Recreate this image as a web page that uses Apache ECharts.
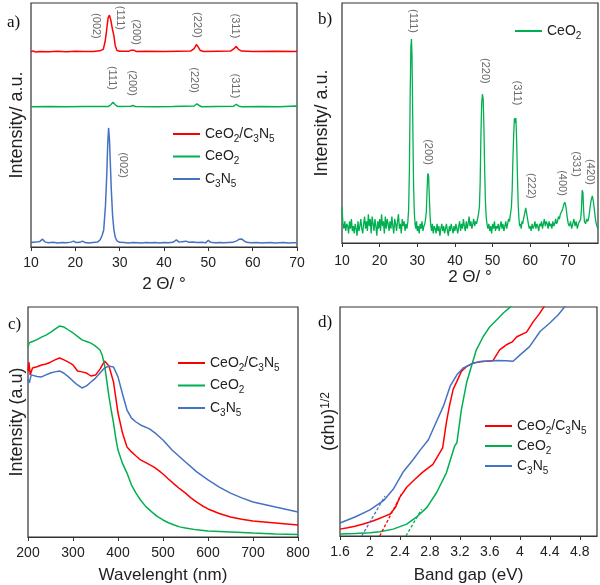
<!DOCTYPE html>
<html><head><meta charset="utf-8">
<script src="https://cdn.jsdelivr.net/npm/echarts@6/dist/echarts.min.js"></script>
<style>html,body{margin:0;padding:0;background:#fff}#c{width:600px;height:585px}</style>
</head><body><div id="c"></div>
<script>
// ---------- Panel a: XRD stacked (2θ, relative intensity) ----------
const xrdA_composite = [[10,80],[10.5,80.4],[11,79.9],[12,80.1],[14,80],[16,80.2],[18,80],[20,80.2],[22,80.1],[24,80.1],[25.5,80.4],[26.3,81],[26.7,84],[27.0,88],[27.4,94],[27.7,95],[28.0,93],[28.4,89],[28.7,86.5],[29.0,82.5],[29.4,80.5],[30,80.2],[32,80.2],[32.5,80.6],[32.9,81.4],[33.3,80.6],[33.8,80.1],[36,80.2],[40,80.1],[43,80.2],[46,80.3],[46.8,81.3],[47.3,83],[47.7,82],[48.2,80.5],[49,80.1],[52,80.2],[55,80.3],[55.8,81.3],[56.3,82.2],[56.8,81],[57.5,80.3],[60,80.1],[65,80.2],[69.5,80.1],[69.8,80.7],[70,80.2]];
const xrdA_CeO2 = [[10,57.5],[14,57.6],[18,57.5],[22,57.6],[27.5,57.6],[28.0,58.3],[28.5,59.3],[29.0,58.3],[29.5,57.6],[32.5,57.7],[33,58.0],[33.5,57.6],[38,57.5],[42,57.6],[46.8,57.8],[47.4,58.7],[48,57.9],[48.5,57.5],[52,57.6],[55.7,57.7],[56.3,58.5],[56.9,57.7],[57.5,57.5],[62,57.6],[66,57.5],[69.8,57.8],[70,57.6]];
const xrdA_C3N5 = [[10,1.8],[11,2.0],[12,2.3],[12.6,3.2],[13.2,2.0],[14,1.7],[15,1.9],[16,1.6],[17,1.8],[18,1.7],[19,2.0],[19.6,2.4],[20.2,1.8],[21,1.9],[21.6,2.4],[22.2,1.8],[23,1.6],[24,1.8],[25,2.0],[25.6,3.0],[26.0,4.5],[26.4,7],[26.8,17],[27.1,30],[27.3,42],[27.5,48.8],[27.7,44],[27.9,34],[28.1,24],[28.4,13],[28.7,7],[29.0,4],[29.4,2.5],[30,1.9],[31,1.8],[32,1.6],[33,1.8],[34,1.7],[35,1.6],[36,1.8],[37,1.7],[38,1.8],[39,1.6],[40,1.8],[41,1.7],[42,1.9],[42.8,2.9],[43.4,2.0],[44,2.2],[45,2.4],[45.6,1.9],[46.5,2.0],[47.5,1.8],[48.5,1.9],[49.4,1.7],[50.0,2.8],[50.5,1.9],[51.5,1.7],[52.5,1.8],[53.5,1.7],[54.5,1.8],[55.5,1.9],[56.4,2.5],[57.0,3.2],[57.5,3.3],[58.0,2.6],[58.6,1.9],[59.5,1.7],[61,1.8],[62,1.6],[63,1.7],[64,1.8],[65,1.6],[66,1.7],[67,1.8],[68,1.6],[69,1.7],[70,1.7]];
const xrdA_labels = [[24.6,90.6,'(002)'],[30.0,93.9,'(111)'],[33.8,88.1,'(200)'],[47.4,91,'(220)'],[56.0,90.6,'(311)'],
  [28.2,69.3,'(111)'],[32.7,67.2,'(200)'],[46.7,68.4,'(220)'],[56.0,66,'(311)'],[30.7,33.6,'(002)']];

// ---------- Panel b: XRD CeO2 ----------
const xrdB_CeO2 = [[10,15],[10.25,8],[10.5,6],[10.75,9],[11,5],[11.25,8],[11.5,7],[11.75,4],[12,9],[12.25,6],[12.5,10],[12.75,5],[13,7],[13.25,4],[13.5,8],[13.75,6],[14,3],[14.25,9],[14.5,5],[14.75,7],[15,10],[15.25,6],[15.5,4],[15.75,8],[16,11],[16.25,6],[16.5,9],[16.75,5],[17,12],[17.25,7],[17.5,10],[17.75,4],[18,11],[18.25,8],[18.5,5],[18.75,10],[19,7],[19.25,3],[19.5,9],[19.75,6],[20,10],[20.25,5],[20.5,12],[20.75,7],[21,9],[21.25,4],[21.5,11],[21.75,6],[22,10],[22.25,8],[22.5,5],[22.75,9],[23,6],[23.25,11],[23.5,7],[23.75,4],[24,10],[24.25,8],[24.5,5],[24.75,9],[25,12],[25.25,6],[25.5,8],[25.75,4],[26,10],[26.25,7],[26.5,9],[26.75,5],[27,8],[27.25,6],
  [27.5,9],[27.7,14],[27.9,30],[28.1,60],[28.3,82],[28.45,85],[28.6,78],[28.8,50],[29.0,25],[29.2,13],[29.4,8],[29.6,6],
  [29.8,9],[30.0,5],[30.25,7],[30.5,4],[30.75,8],[31,6],[31.25,9],[31.5,5],[31.75,7],[32.0,8],[32.2,10],
  [32.4,13],[32.6,22],[32.8,29],[33.0,28],[33.2,19],[33.4,11],[33.6,7],
  [33.8,5],[34,8],[34.25,4],[34.5,7],[34.75,6],[35,4],[35.25,8],[35.5,5],[35.75,7],[36,3],[36.25,6],[36.5,8],[36.75,5],[37,7],[37.25,4],[37.5,6],[37.75,8],[38,5],[38.25,3],[38.5,7],[38.75,5],[39,8],[39.25,6],[39.5,4],[39.75,7],[40,5],[40.25,8],[40.5,6],[40.75,4],[41,7],[41.25,9],[41.5,5],[41.75,8],[42,6],[42.25,10],[42.5,7],[42.75,5],[43,9],[43.25,6],[43.5,8],[43.75,11],[44,7],[44.25,9],[44.5,6],[44.75,8],[45,10],[45.25,7],[45.5,9],[45.75,8],[46,10],[46.25,12],
  [46.5,15],[46.7,25],[46.9,45],[47.1,58],[47.3,62],[47.5,60],[47.7,48],[47.9,30],[48.1,17],[48.3,11],[48.5,8],
  [48.75,6],[49,8],[49.25,5],[49.5,7],[49.75,4],[50,8],[50.25,6],[50.5,9],[50.75,5],[51,7],[51.25,6],[51.5,8],[51.75,5],[52,7],[52.25,9],[52.5,6],[52.75,8],[53,5],[53.25,7],[53.5,9],[53.75,6],[54,8],[54.25,10],[54.5,9],[54.75,12],
  [55.0,15],[55.2,22],[55.4,35],[55.6,45],[55.8,52],[56.0,50],[56.2,52],[56.4,42],[56.6,28],[56.8,16],[57.0,10],[57.2,7],
  [57.4,8],[57.6,6],[57.8,9],[58.0,8],[58.2,10],[58.5,12],[58.8,14.6],[59.0,14],[59.2,11],[59.5,8],[59.75,6],
  [60,7],[60.25,5],[60.5,8],[60.75,6],[61,7],[61.25,9],[61.5,6],[61.75,8],[62,7],[62.25,5],[62.5,8],[62.75,7],[63,9],[63.25,6],[63.5,8],[63.75,10],[64,7],[64.25,9],[64.5,8],[64.75,6],[65,9],[65.25,7],[65.5,8],[65.75,6],[66,9],[66.25,7],[66.5,8],[66.75,10],[67,8],[67.25,9],[67.5,11],[67.75,10],[68,12],
  [68.3,12],[68.6,14],[68.9,16],[69.2,17],[69.5,15],[69.8,11],[70.1,8],
  [70.4,7],[70.7,9],[71,6],[71.3,8],[71.6,10],[71.9,7],[72.2,9],[72.5,6],[72.8,8],[73.1,9],[73.4,10],
  [73.6,14],[73.8,22],[74.0,21],[74.2,13],[74.4,9],[74.7,8],[75.0,10],[75.3,9],[75.6,11],
  [75.9,15],[76.2,18],[76.5,19.6],[76.8,17],[77.1,13],[77.4,9],[77.7,7],[78,6]];
const xrdB_labels = [[28.9,92.5,'(111)'],[32.9,37.9,'(200)'],[47.9,71.7,'(220)'],[56.4,62.5,'(311)'],[60.1,23.8,'(222)'],[68.4,25,'(400)'],[72.1,32.9,'(331)'],[75.9,29.6,'(420)']];

// ---------- Panel c: UV-vis (nm, intensity) ----------
const uv_composite = [[200,72],[202,76],[205,70.5],[210,73.5],[220,74],[230,74.8],[240,75.2],[250,76],[260,77],[270,77.8],[280,77],[290,76],[300,74.8],[310,72.2],[320,71.8],[330,71.3],[340,70],[350,70.4],[360,73],[370,76.5],[380,74.3],[390,67.4],[400,53.9],[410,45.2],[420,39.1],[430,37],[440,35.2],[450,33.5],[465,32],[480,30.4],[490,29],[500,27.4],[512,25.2],[525,23],[537,21],[550,19.1],[562,17],[575,15.2],[587,13.6],[600,12.2],[625,10.2],[650,8.7],[675,7.7],[700,7],[750,6.1],[800,5.2]];
const uv_CeO2 = [[200,82.6],[203,84.5],[206,84],[210,85],[220,85.8],[230,86.9],[240,87.8],[250,89],[260,90.4],[270,91.7],[280,91.3],[290,90],[300,88.7],[310,87.2],[320,85.7],[330,85],[340,84.3],[350,83],[360,81.3],[365,79],[370,74.8],[375,68],[380,60.9],[385,55],[390,49.6],[395,43],[400,37.8],[410,32],[420,27.8],[430,22.6],[440,19.1],[450,16.1],[462,13.2],[475,10.9],[487,9],[500,7.4],[512,6.2],[525,5.2],[537,4.4],[550,3.9],[575,3.1],[600,2.6],[650,2.2],[700,1.7],[750,1.3],[800,1.1]];
const uv_C3N5 = [[200,68.7],[203,67],[207,70.5],[210,70.4],[220,69.8],[230,69.6],[240,70.5],[250,71.3],[260,71.8],[270,72.2],[280,71.2],[290,69.6],[300,67.8],[310,66.1],[320,64.8],[330,65.7],[340,67.4],[350,69.1],[360,71.3],[370,73.5],[380,74.3],[390,73.9],[400,69.6],[410,62.2],[420,55.2],[430,51.7],[440,50],[450,48.7],[470,47],[485,44.8],[500,42.2],[520,37.8],[535,35.2],[550,32.6],[575,28.3],[600,24.8],[625,21.7],[650,19.1],[675,17],[700,15.2],[750,13],[800,10.9]];

// ---------- Panel d: Tauc plot (eV, (αhυ)^1/2) ----------
const tauc_composite = [[1.6,3],[1.7,3.6],[1.8,4.3],[1.9,5.1],[2.0,6.1],[2.1,7.3],[2.2,8.7],[2.27,9.6],[2.34,12.5],[2.4,17],[2.49,21.3],[2.6,24.8],[2.7,27.8],[2.84,31.3],[2.97,38.5],[3.02,49.6],[3.06,56.7],[3.11,64],[3.16,67.5],[3.22,71.9],[3.29,74],[3.38,75.6],[3.5,76.2],[3.64,76.5],[3.73,81.3],[3.82,83.5],[3.9,84.8],[3.96,87],[4.09,89],[4.18,93.6],[4.26,97],[4.33,100.5]];
const tauc_CeO2 = [[1.6,0.9],[1.8,1.1],[2.0,1.4],[2.13,1.9],[2.31,3],[2.49,5.2],[2.62,8.2],[2.76,12.5],[2.89,19],[3.02,27.6],[3.13,39.3],[3.16,40.7],[3.22,55.2],[3.29,67],[3.36,74.8],[3.42,81.3],[3.51,87],[3.6,91.4],[3.69,94.3],[3.78,97.4],[3.89,100.5]];
const tauc_C3N5 = [[1.6,5.7],[1.8,8.3],[2.0,11.4],[2.18,15.4],[2.31,20.4],[2.44,27.8],[2.58,33.5],[2.67,37.5],[2.78,42],[2.84,46.5],[2.98,56.7],[3.07,65.4],[3.16,70.4],[3.24,73.3],[3.36,75.2],[3.47,76.2],[3.6,76.4],[3.7,76.6],[3.82,76.5],[3.91,76.3],[4.0,79],[4.13,82.7],[4.27,89.3],[4.4,93],[4.51,96.5],[4.61,100.5]];
const tangent_composite = [[2.13,0],[2.42,18.3]];
const tangent_CeO2 = [[2.48,0],[2.69,11.7]];
const tangent_C3N5 = [[1.89,0],[2.2,17.4]];

// ---------- tick settings ----------
const ticksA = {min:10, max:70, interval:10};
const ticksB = {min:10, max:78, interval:10};
const ticksC = {min:200, max:800, interval:100};
const ticksD = {min:1.6, max:5.03, interval:0.4};

const RED = '#ff0000', GREEN = '#00b050', BLUE = '#4472c4';
const FONT = '"Liberation Sans", Arial, sans-serif';
const chart = echarts.init(document.getElementById('c'), null, {renderer:'canvas'});

function xAxis(g, t, name, nameGap, margin){
  return {gridIndex:g, type:'value', min:t.min, max:t.max, interval:t.interval,
    name:name, nameLocation:'middle', nameGap:nameGap,
    nameTextStyle:{fontSize:17, color:'#222', fontFamily:FONT},
    axisLine:{show:true, lineStyle:{color:'#333', width:1.2}},
    axisTick:{show:true, length:4, inside:false, lineStyle:{color:'#333'}},
    axisLabel:{fontSize:14, color:'#222', fontFamily:FONT, margin:margin, showMaxLabel: (t.max % t.interval === 0) ? true : false,
      formatter: v => (Math.abs(v/t.interval - Math.round(v/t.interval)) < 1e-6 && v <= t.max - t.interval*0.1 + 1e-9 || Math.abs(v - t.max) < 1e-9 && t.max % t.interval === 0) ? String(Math.round(v*10)/10) : ''},
    splitLine:{show:false}};
}
function yAxis(g, name, nameGap, rich){
  return {gridIndex:g, type:'value', min:0, max:100,
    name:name, nameLocation:'middle', nameGap:nameGap,
    nameTextStyle:{fontSize:18, color:'#222', fontFamily:FONT, rich:rich},
    axisLine:{show:false}, axisTick:{show:false}, axisLabel:{show:false}, splitLine:{show:false}};
}
function line(name, data, idx, color, extra){
  return Object.assign({type:'line', name:name, data:data, xAxisIndex:idx, yAxisIndex:idx,
    symbol:'none', showSymbol:false, animation:false, clip:true,
    lineStyle:{color:color, width:1.5}, itemStyle:{color:color}}, extra||{});
}
function ann(list, idx){
  return {type:'scatter', name:'ann'+idx, xAxisIndex:idx, yAxisIndex:idx, symbolSize:1, animation:false, silent:true,
    itemStyle:{color:'rgba(0,0,0,0)'},
    data:list.map(a => ({value:[a[0], a[1]], name:a[2]})),
    label:{show:true, position:'inside', rotate:-90, formatter:'{b}', fontSize:11, color:'#444', fontFamily:FONT}};
}
const richSub = {s:{fontSize:10, lineHeight:10, verticalAlign:'bottom', fontFamily:FONT, color:'#222'}};
function legend(names, left, top, gap){
  return {data:names, orient:'vertical', left:left, top:top, padding:0, itemGap:gap,
    icon:'rect', itemWidth:27, itemHeight:2, selectedMode:false,
    formatter: n => n.replace(/(\d)/g, '{s|$1}'),
    textStyle:{fontSize:14, lineHeight:20, color:'#222', fontFamily:FONT, rich:richSub}};
}
const NAMES = ['CeO2/C3N5','CeO2','C3N5'];
const dash = {lineStyle:{width:1.3, type:[3,2]}};

chart.setOption({
  backgroundColor:'#fff',
  animation:false,
  grid:[
    {left:31, top:3, width:266, height:244, show:true, borderColor:'#333', borderWidth:1.2},
    {left:342, top:3, width:256, height:240, show:true, borderColor:'#333', borderWidth:1.2},
    {left:28, top:307, width:270, height:230, show:true, borderColor:'#333', borderWidth:1.2},
    {left:340, top:307, width:257, height:230, show:true, borderColor:'#333', borderWidth:1.2}
  ],
  xAxis:[ xAxis(0, ticksA, '2 Θ/ °', 29, 9), xAxis(1, ticksB, '2 Θ/ °', 25, 11),
          xAxis(2, ticksC, 'Wavelenght (nm)', 30, 9), xAxis(3, ticksD, 'Band gap (eV)', 31, 9) ],
  yAxis:[ yAxis(0, 'Intensity/ a.u.', 5), yAxis(1, 'Intensity/ a.u.', 11),
          yAxis(2, 'Intensity (a.u)', 2),
          yAxis(3, '(αhυ){sup|1/2}', 2, {sup:{fontSize:12, lineHeight:12, verticalAlign:'top', color:'#222', fontFamily:FONT}}) ],
  legend:[ legend(NAMES, 173, 124, 2.5), legend(['CeO2'], 515, 21, 2), legend(NAMES, 178, 353, 2.5), legend(NAMES, 485, 416, 0) ],
  graphic:[
    {type:'text', left:7, top:14, style:{text:'a)', font:'17px "Liberation Serif", serif', fill:'#111'}},
    {type:'text', left:318, top:11, style:{text:'b)', font:'17px "Liberation Serif", serif', fill:'#111'}},
    {type:'text', left:8, top:316, style:{text:'c)', font:'17px "Liberation Serif", serif', fill:'#111'}},
    {type:'text', left:318, top:314, style:{text:'d)', font:'17px "Liberation Serif", serif', fill:'#111'}}
  ],
  series:[
    line('CeO2/C3N5', xrdA_composite, 0, RED),
    line('CeO2', xrdA_CeO2, 0, GREEN),
    line('C3N5', xrdA_C3N5, 0, BLUE),
    ann(xrdA_labels, 0),
    line('CeO2', xrdB_CeO2, 1, GREEN, {lineStyle:{color:GREEN, width:1.3}}),
    ann(xrdB_labels, 1),
    line('CeO2/C3N5', uv_composite, 2, RED),
    line('CeO2', uv_CeO2, 2, GREEN),
    line('C3N5', uv_C3N5, 2, BLUE),
    line('CeO2/C3N5', tauc_composite, 3, RED),
    line('CeO2', tauc_CeO2, 3, GREEN),
    line('C3N5', tauc_C3N5, 3, BLUE),
    line('tanR', tangent_composite, 3, RED, {lineStyle:{color:RED, width:1.3, type:[3,2]}}),
    line('tanG', tangent_CeO2, 3, GREEN, {lineStyle:{color:GREEN, width:1.3, type:[3,2]}}),
    line('tanB', tangent_C3N5, 3, BLUE, {lineStyle:{color:BLUE, width:1.3, type:[3,2]}})
  ]
});
</script></body></html>
